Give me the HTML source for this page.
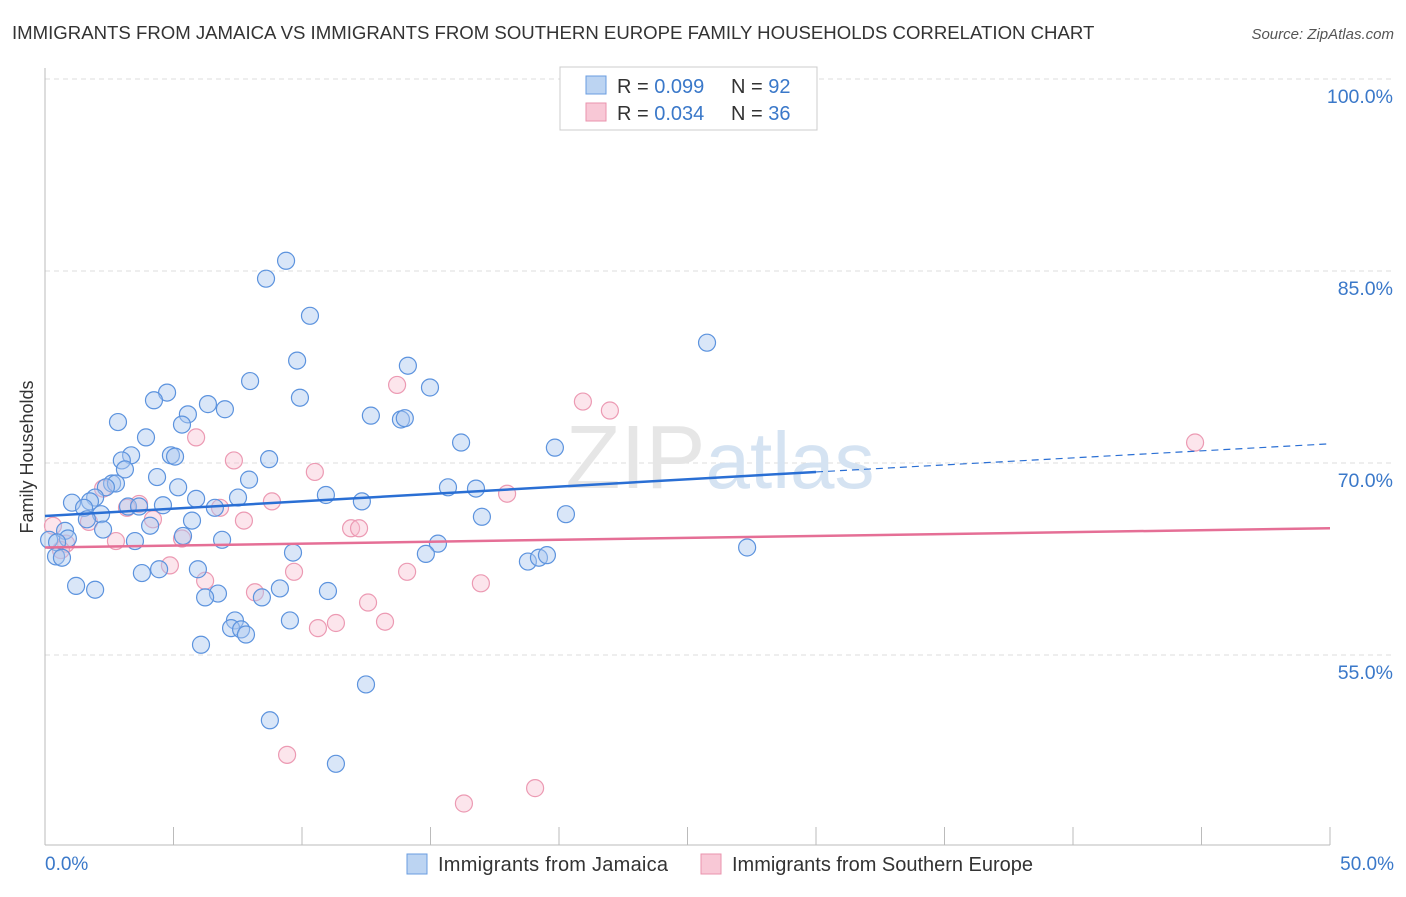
<!DOCTYPE html>
<html><head><meta charset="utf-8"><style>
body{margin:0;background:#fff;font-family:"Liberation Sans",sans-serif;}
svg text{font-family:"Liberation Sans",sans-serif;}
</style></head><body>
<svg width="1406" height="892" viewBox="0 0 1406 892">
<text x="12" y="39" font-size="18.6" fill="#333">IMMIGRANTS FROM JAMAICA VS IMMIGRANTS FROM SOUTHERN EUROPE FAMILY HOUSEHOLDS CORRELATION CHART</text>
<text x="1394" y="39" font-size="15" fill="#555" font-style="italic" text-anchor="end">Source: ZipAtlas.com</text>
<g id="grid"></g>
<text x="720" y="488" font-size="90" fill="#e6e6e6" text-anchor="middle" font-family="Liberation Serif">ZIP<tspan fill="#d5e3f2" font-family="Liberation Sans" font-size="80">atlas</tspan></text>
<line x1="45" y1="68" x2="45" y2="845" stroke="#bbb"/>
<line x1="45" y1="845" x2="1330" y2="845" stroke="#bbb"/>
<g id="xticks"></g>
<text x="33" y="457" font-size="18" fill="#333" transform="rotate(-90 33 457)" text-anchor="middle">Family Households</text>
<text x="45" y="870" font-size="19" fill="#3a78c9">0.0%</text>
<text x="1394" y="870" font-size="19" fill="#3a78c9" text-anchor="end">50.0%</text>
<g id="pts"></g>
<g id="lines"></g>
<g>
<rect x="560" y="67" width="257" height="63" fill="#fff" stroke="#ccc"/>
<rect x="586" y="76" width="20" height="18" fill="#bcd4f2" stroke="#6a9de0"/>
<rect x="586" y="103" width="20" height="18" fill="#f8c8d6" stroke="#ea93ad"/>
<text x="617" y="93" font-size="20" fill="#333">R = <tspan fill="#3a78c9">0.099</tspan></text>
<text x="731" y="93" font-size="20" fill="#333">N = <tspan fill="#3a78c9">92</tspan></text>
<text x="617" y="120" font-size="20" fill="#333">R = <tspan fill="#3a78c9">0.034</tspan></text>
<text x="731" y="120" font-size="20" fill="#333">N = <tspan fill="#3a78c9">36</tspan></text>
</g>
<g>
<rect x="407" y="854" width="20" height="20" fill="#bcd4f2" stroke="#6a9de0"/>
<text x="438" y="871" font-size="20" fill="#333" textLength="230">Immigrants from Jamaica</text>
<rect x="701" y="854" width="20" height="20" fill="#f8c8d6" stroke="#ea93ad"/>
<text x="732" y="871" font-size="20" fill="#333" textLength="301">Immigrants from Southern Europe</text>
</g>
</svg>
<script>
const yTicks=[55,70,85,100];
const xTickVals=[0,5,10,15,20,25,30,35,40,45,50];
const jamX=[9.38,8.6,10.31,25.76,9.81,14.12,7.98,14.98,4.75,4.24,9.92,6.34,7.0,5.56,12.68,2.84,13.85,14.0,5.33,3.93,16.19,19.84,3.35,4.9,5.06,8.72,2.99,3.11,4.36,7.94,2.61,2.76,5.18,2.37,15.68,16.77,7.51,10.93,5.88,1.95,12.33,1.05,1.75,1.52,4.59,3.23,3.66,6.61,2.18,17.0,20.27,1.63,5.72,4.09,2.26,0.78,5.37,0.89,3.5,6.89,0.16,0.47,15.29,27.32,9.65,14.82,0.43,0.66,18.79,19.22,19.53,5.95,4.44,3.77,1.21,1.95,9.14,11.01,6.73,6.23,8.44,7.39,9.53,7.24,7.63,7.82,6.07,12.49,8.75,11.32];
const jamY=[85.8,84.4,81.5,79.4,78.0,77.6,76.4,75.9,75.5,74.9,75.1,74.6,74.2,73.8,73.7,73.2,73.4,73.5,73.0,72.0,71.6,71.2,70.6,70.6,70.5,70.3,70.2,69.5,68.9,68.7,68.4,68.4,68.1,68.1,68.1,68.0,67.3,67.5,67.2,67.3,67.0,66.9,67.0,66.5,66.7,66.6,66.6,66.5,66.0,65.8,66.0,65.6,65.5,65.1,64.8,64.7,64.3,64.1,63.9,64.0,64.0,63.8,63.7,63.4,63.0,62.9,62.7,62.6,62.3,62.6,62.8,61.7,61.7,61.4,60.4,60.1,60.2,60.0,59.8,59.5,59.5,57.7,57.7,57.1,57.0,56.6,55.8,52.7,49.9,46.5];
const seX=[13.7,20.93,21.98,5.88,7.35,44.75,10.5,2.26,3.66,8.83,17.98,3.19,6.81,4.2,7.74,1.71,0.31,5.33,11.91,12.22,2.76,0.82,4.86,9.69,14.09,6.23,16.96,8.17,12.57,11.32,10.62,13.23,9.42,16.3,19.07,0.62];
const seY=[76.1,74.8,74.1,72.0,70.2,71.6,69.3,68.0,66.8,67.0,67.6,66.5,66.5,65.6,65.5,65.4,65.1,64.1,64.9,64.9,63.9,63.7,62.0,61.5,61.5,60.8,60.6,59.9,59.1,57.5,57.1,57.6,47.2,43.4,44.6,63.2];
const jamTrend=[65.86,69.3,71.5];
const jamTrendX=[0,30,50];
const seTrend=[63.4,64.9];
const seTrendX=[0,50];
const NS='http://www.w3.org/2000/svg';
const sx=v=>45+v*25.7, sy=v=>79+(100-v)*12.8;
function mk(t,a,p){const e=document.createElementNS(NS,t);for(const k in a)e.setAttribute(k,a[k]);p.appendChild(e);return e;}
const grid=document.getElementById('grid');
yTicks.forEach(v=>{
 const l=mk('line',{x1:45,x2:1394,y1:sy(v),y2:sy(v),stroke:'#ddd','stroke-dasharray':'5,4'},grid);
 
 
 const t=mk('text',{x:1393,y:sy(v)+24,'font-size':19.5,fill:'#3a78c9','text-anchor':'end'},grid);
 t.textContent=v.toFixed(1)+'%';
 
 
});
const xt=document.getElementById('xticks');
xTickVals.forEach(v=>{
 const l=mk('line',{x1:sx(v),x2:sx(v),y1:827,y2:845,stroke:'#bbb'},xt);
 
 
});
const pts=document.getElementById('pts');
seX.forEach((x,i)=>{
 const c=mk('circle',{cx:sx(x),cy:sy(seY[i]),r:8.5,fill:'rgba(248,190,208,0.4)',stroke:'#ec9ab3','stroke-width':1.2},pts);
 
 
});
jamX.forEach((x,i)=>{
 const c=mk('circle',{cx:sx(x),cy:sy(jamY[i]),r:8.5,fill:'rgba(170,200,240,0.45)',stroke:'#5c93de','stroke-width':1.2},pts);
 
 
});
const ln=document.getElementById('lines');
let a=mk('line',{x1:sx(jamTrendX[0]),y1:sy(jamTrend[0]),x2:sx(jamTrendX[1]),y2:sy(jamTrend[1]),stroke:'#2a6fd4','stroke-width':2.5},ln);


let b=mk('line',{x1:sx(jamTrendX[1]),y1:sy(jamTrend[1]),x2:sx(jamTrendX[2]),y2:sy(jamTrend[2]),stroke:'#2a6fd4','stroke-width':1.2,'stroke-dasharray':'7,5'},ln);


let c=mk('line',{x1:sx(seTrendX[0]),y1:sy(seTrend[0]),x2:sx(seTrendX[1]),y2:sy(seTrend[1]),stroke:'#e56f96','stroke-width':2.5},ln);


</script>
</body></html>
